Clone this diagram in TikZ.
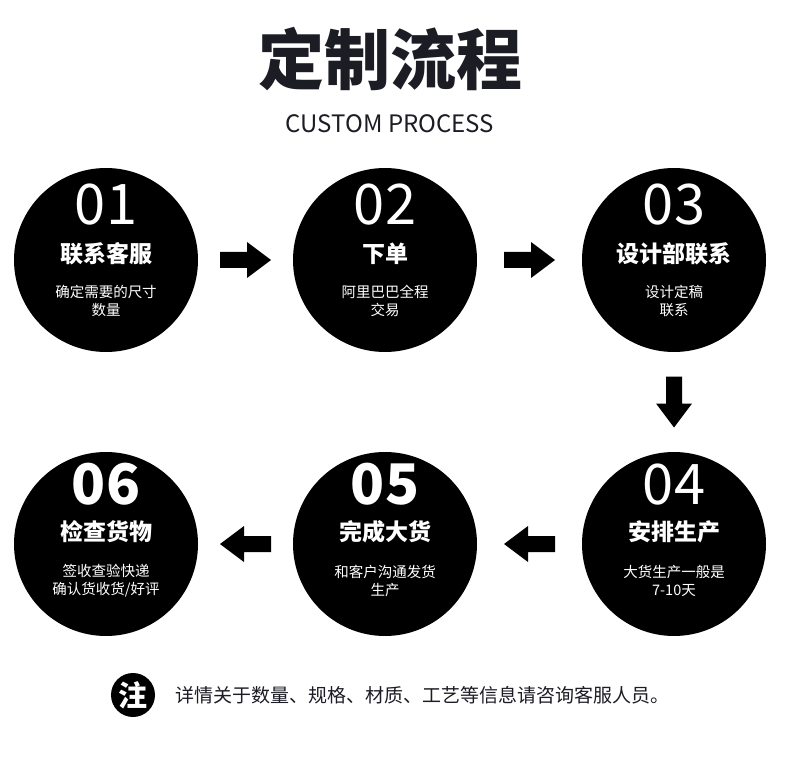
\documentclass[tikz,border=0pt]{standalone}
\usepackage{fontspec}
\newfontfamily\cjk{Noto Sans CJK SC}
\usetikzlibrary{calc,positioning}
\definecolor{ink}{RGB}{28,28,36}
\tikzset{
  stepdisc/.style={circle, fill=black, minimum size=184pt, inner sep=0pt},
  stepnum/.style={text=white, inner sep=0pt, font=\cjk\fontsize{56}{56}\selectfont},
  stepnumbold/.style={stepnum, font=\cjk\bfseries\fontsize{56}{56}\selectfont},
  stephead/.style={text=white, inner sep=0pt, font=\cjk\bfseries\fontsize{23}{23}\selectfont},
  stepinfo/.style={text=white, inner sep=0pt, align=center, font=\cjk\fontsize{14.5}{18}\selectfont},
  blockarrow/.pic={\fill (-25.5,-8) -- (1.5,-8) -- (1.5,-18) -- (25.5,0) -- (1.5,18) -- (1.5,8) -- (-25.5,8) -- cycle;}
}
\begin{document}
\begin{tikzpicture}[x=1pt,y=-1pt]
  \fill[white] (0,0) rectangle (790,767);
  \useasboundingbox (0,0) rectangle (790,767);

  \node[inner sep=0pt, text=ink, font=\cjk\bfseries\fontsize{66}{66}\selectfont] (title) at (390,59) {定制流程};
  \node[inner sep=0pt, text=ink, font=\cjk\fontsize{24}{24}\selectfont] (subtitle) at (390,124) {CUSTOM PROCESS};

  \node[stepdisc] (c1) at (106,260) {};
  \node[stepdisc] (c2) at (385,260) {};
  \node[stepdisc] (c3) at (674,260) {};
  \node[stepdisc] (c4) at (674,544) {};
  \node[stepdisc] (c5) at (385,544) {};
  \node[stepdisc] (c6) at (106,544) {};

  \node[stepnum]  (n1) at (106,205) {01};
  \node[stephead] (h1) at (106,254) {联系客服};
  \node[stepinfo] (i1) at (106,301) {确定需要的尺寸\\数量};

  \node[stepnum]  (n2) at (385,205) {02};
  \node[stephead] (h2) at (385,254) {下单};
  \node[stepinfo] (i2) at (385,301) {阿里巴巴全程\\交易};

  \node[stepnum]  (n3) at (674,205) {03};
  \node[stephead] (h3) at (674,254) {设计部联系};
  \node[stepinfo] (i3) at (674,301) {设计定稿\\联系};

  \node[stepnum]  (n4) at (674,485) {04};
  \node[stephead] (h4) at (674,532) {安排生产};
  \node[stepinfo] (i4) at (674,581) {大货生产一般是\\7-10天};

  \node[stepnumbold] (n5) at (385,484) {05};
  \node[stephead] (h5) at (385,532) {完成大货};
  \node[stepinfo] (i5) at (385,581) {和客户沟通发货\\生产};

  \node[stepnumbold] (n6) at (106,484) {06};
  \node[stephead] (h6) at (106,532) {检查货物};
  \node[stepinfo] (i6) at (106,581) {签收查验快递\\确认货收货/好评};

  \pic at ($(c1)!0.5!(c2)$) {blockarrow};
  \pic at ($(c2)!0.5!(c3)$) {blockarrow};
  \pic[rotate=-90] at ($(c3)!0.5!(c4)$) {blockarrow};
  \pic[rotate=180] at ($(c4)!0.5!(c5)$) {blockarrow};
  \pic[rotate=180] at ($(c5)!0.5!(c6)$) {blockarrow};

  \node[circle, fill=black, minimum size=44pt, inner sep=0pt, text=white, font=\cjk\bfseries\fontsize{29}{29}\selectfont] (note) at (133,695) {注};
  \node[inner sep=0pt, anchor=west, right=20pt of note, text=ink, font=\cjk\fontsize{19}{19}\selectfont] (notetext) {详情关于数量、规格、材质、工艺等信息请咨询客服人员。};
\end{tikzpicture}
\end{document}
